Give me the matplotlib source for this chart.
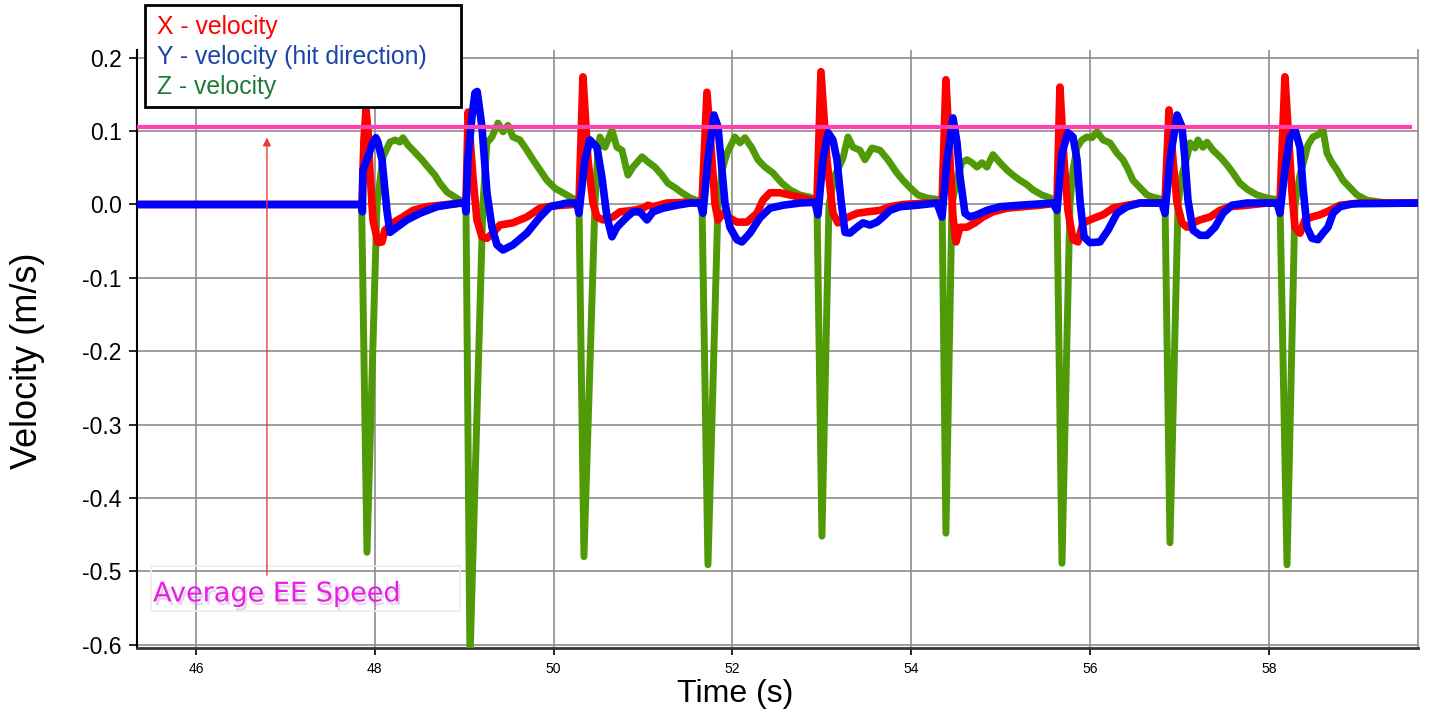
import numpy as np
import matplotlib.pyplot as plt
import matplotlib.patheffects as pe
from matplotlib.patches import Rectangle

plt.rcParams['font.family'] = ['Liberation Sans', 'DejaVu Sans']

series_labels = ['X - velocity', 'Y - velocity (hit direction)', 'Z - velocity']
avg_speed = 0.106
x_ticks = [46, 48, 50, 52, 54, 56, 58]
y_ticks = [0.2, 0.1, 0.0, -0.1, -0.2, -0.3, -0.4, -0.5, -0.6]

# (time s, velocity m/s)
x_vel = [
    (45.3, 0.0), (47.857, 0.0),
    (47.879, 0.088), (47.902, 0.129), (47.924, 0.101), (47.946, 0.047), (47.980, -0.021),
    (48.036, -0.052), (48.081, -0.051), (48.114, -0.035), (48.204, -0.025), (48.315, -0.017),
    (48.427, -0.008), (48.584, -0.003), (48.808, 0.0), (48.987, 0.002),
    (49.020, 0.002), (49.045, 0.126), (49.098, 0.038), (49.143, -0.021), (49.199, -0.044),
    (49.255, -0.046), (49.322, -0.039), (49.400, -0.028), (49.546, -0.025), (49.702, -0.017),
    (49.848, -0.005), (49.993, -0.002), (50.217, 0.0), (50.284, 0.0),
    (50.329, 0.174), (50.385, 0.061), (50.441, 0.002), (50.485, -0.017), (50.553, -0.021),
    (50.664, -0.017), (50.743, -0.010), (50.888, -0.008), (51.000, -0.005), (51.056, -0.001),
    (51.112, -0.003), (51.268, 0.002), (51.492, 0.003), (51.660, 0.002),
    (51.716, 0.153), (51.772, 0.061), (51.805, 0.002), (51.839, -0.021), (51.895, -0.012),
    (51.951, -0.017), (52.051, -0.024), (52.163, -0.024), (52.275, -0.012), (52.342, 0.006),
    (52.421, 0.016), (52.532, 0.016), (52.644, 0.013), (52.790, 0.009), (52.946, 0.004),
    (52.991, 0.181), (53.058, 0.061), (53.125, -0.012), (53.181, -0.025), (53.282, -0.018),
    (53.394, -0.012), (53.506, -0.010), (53.651, -0.008), (53.763, -0.003), (53.909, 0.0),
    (54.177, 0.002), (54.345, 0.002),
    (54.389, 0.170), (54.434, 0.061), (54.468, -0.017), (54.501, -0.051), (54.546, -0.031),
    (54.624, -0.031), (54.714, -0.025), (54.803, -0.017), (54.915, -0.010), (55.072, -0.005),
    (55.251, -0.003), (55.441, -0.001), (55.631, 0.002),
    (55.664, 0.160), (55.709, 0.061), (55.754, -0.008), (55.810, -0.048), (55.866, -0.051),
    (55.922, -0.025), (56.000, -0.021), (56.079, -0.017), (56.146, -0.014), (56.258, -0.005),
    (56.414, -0.001), (56.559, 0.002), (56.839, 0.002),
    (56.884, 0.129), (56.929, 0.061), (56.974, 0.002), (57.029, -0.025), (57.085, -0.031),
    (57.152, -0.025), (57.231, -0.021), (57.342, -0.017), (57.454, -0.008), (57.566, -0.003),
    (57.756, -0.001), (57.980, 0.002), (58.125, 0.002),
    (58.181, 0.174), (58.215, 0.106), (58.260, 0.016), (58.293, -0.031), (58.349, -0.039),
    (58.405, -0.021), (58.483, -0.017), (58.572, -0.014), (58.685, -0.008), (58.796, -0.001),
    (59.020, 0.002), (59.658, 0.002),
]

y_vel = [
    (45.3, 0.0), (47.853, 0.0),
    (47.862, -0.010), (47.868, 0.047), (47.924, 0.065), (47.980, 0.085), (48.013, 0.091),
    (48.036, 0.085), (48.081, 0.061), (48.136, -0.008), (48.170, -0.038), (48.248, -0.031),
    (48.360, -0.021), (48.506, -0.012), (48.696, -0.003), (48.953, 0.002), (49.009, 0.002),
    (49.020, -0.010), (49.042, 0.061), (49.087, 0.119), (49.121, 0.152), (49.146, 0.154),
    (49.199, 0.106), (49.255, 0.016), (49.311, -0.031), (49.367, -0.055), (49.434, -0.062),
    (49.546, -0.055), (49.702, -0.039), (49.848, -0.017), (49.960, -0.003), (50.150, 0.002),
    (50.262, 0.002),
    (50.284, -0.012), (50.351, 0.061), (50.407, 0.088), (50.485, 0.078), (50.541, 0.037),
    (50.597, -0.017), (50.653, -0.044), (50.709, -0.031), (50.821, -0.017), (50.888, -0.010),
    (50.966, -0.010), (51.045, -0.021), (51.112, -0.010), (51.224, -0.005), (51.380, -0.001),
    (51.526, 0.002), (51.638, 0.002),
    (51.671, -0.012), (51.727, 0.061), (51.794, 0.122), (51.839, 0.106), (51.884, 0.047),
    (51.917, 0.002), (51.973, -0.031), (52.051, -0.048), (52.107, -0.051), (52.197, -0.039),
    (52.309, -0.018), (52.421, -0.005), (52.566, -0.001), (52.756, 0.002), (52.924, 0.003),
    (52.957, -0.014), (53.013, 0.061), (53.070, 0.098), (53.125, 0.088), (53.170, 0.061),
    (53.215, 0.006), (53.260, -0.038), (53.315, -0.039), (53.394, -0.031), (53.461, -0.025),
    (53.539, -0.028), (53.618, -0.024), (53.685, -0.017), (53.763, -0.008), (53.875, -0.003),
    (54.065, -0.001), (54.289, 0.002),
    (54.345, -0.017), (54.401, 0.061), (54.468, 0.118), (54.513, 0.084), (54.546, 0.038),
    (54.602, -0.012), (54.658, -0.017), (54.736, -0.014), (54.848, -0.008), (54.993, -0.003),
    (55.217, -0.001), (55.586, 0.002),
    (55.631, -0.008), (55.687, 0.070), (55.754, 0.098), (55.810, 0.092), (55.855, 0.061),
    (55.888, 0.006), (55.933, -0.044), (56.000, -0.052), (56.112, -0.051), (56.202, -0.035),
    (56.302, -0.012), (56.414, -0.003), (56.559, 0.002), (56.805, 0.002),
    (56.839, -0.012), (56.895, 0.061), (56.974, 0.122), (57.029, 0.106), (57.063, 0.061),
    (57.096, 0.006), (57.152, -0.035), (57.231, -0.042), (57.309, -0.042), (57.398, -0.031),
    (57.488, -0.012), (57.588, -0.001), (57.756, 0.002), (58.092, 0.002),
    (58.125, -0.012), (58.181, 0.047), (58.237, 0.092), (58.293, 0.102), (58.349, 0.078),
    (58.383, 0.024), (58.427, -0.031), (58.483, -0.046), (58.550, -0.048), (58.606, -0.039),
    (58.662, -0.031), (58.718, -0.012), (58.796, -0.003), (58.942, 0.001), (59.658, 0.002),
]

z_vel = [
    (45.3, 0.0), (47.853, 0.0),
    (47.913, -0.474), (48.025, 0.0), (48.092, 0.065), (48.170, 0.085), (48.226, 0.088),
    (48.282, 0.085), (48.315, 0.091), (48.371, 0.081), (48.427, 0.074), (48.528, 0.061),
    (48.595, 0.051), (48.673, 0.040), (48.729, 0.029), (48.808, 0.017), (48.897, 0.010),
    (48.953, 0.006), (49.020, 0.002),
    (49.065, -0.62), (49.210, 0.0), (49.255, 0.084), (49.311, 0.092), (49.378, 0.111),
    (49.434, 0.099), (49.490, 0.108), (49.546, 0.092), (49.624, 0.088), (49.702, 0.074),
    (49.770, 0.061), (49.848, 0.047), (49.926, 0.033), (50.016, 0.022), (50.105, 0.016),
    (50.206, 0.009), (50.284, 0.003),
    (50.340, -0.480), (50.463, 0.0), (50.497, 0.074), (50.519, 0.092), (50.575, 0.078),
    (50.653, 0.101), (50.709, 0.078), (50.765, 0.074), (50.832, 0.040), (50.888, 0.051),
    (50.989, 0.065), (51.056, 0.058), (51.134, 0.051), (51.213, 0.040), (51.280, 0.029),
    (51.358, 0.023), (51.436, 0.016), (51.526, 0.009), (51.660, 0.003),
    (51.727, -0.491), (51.839, 0.0), (51.884, 0.047), (51.940, 0.070), (51.973, 0.078),
    (52.029, 0.092), (52.085, 0.084), (52.141, 0.091), (52.219, 0.077), (52.286, 0.061),
    (52.365, 0.051), (52.454, 0.043), (52.555, 0.029), (52.644, 0.020), (52.756, 0.013),
    (52.868, 0.010), (52.946, 0.006),
    (53.002, -0.452), (53.081, 0.0), (53.148, 0.040), (53.237, 0.063), (53.293, 0.092),
    (53.349, 0.078), (53.427, 0.074), (53.483, 0.061), (53.562, 0.077), (53.651, 0.074),
    (53.740, 0.061), (53.841, 0.043), (53.909, 0.033), (53.987, 0.023), (54.076, 0.013),
    (54.177, 0.009), (54.345, 0.006),
    (54.389, -0.448), (54.456, 0.0), (54.513, 0.037), (54.568, 0.057), (54.624, 0.061),
    (54.680, 0.057), (54.736, 0.051), (54.792, 0.057), (54.848, 0.051), (54.915, 0.068),
    (54.993, 0.057), (55.072, 0.047), (55.139, 0.040), (55.217, 0.033), (55.295, 0.027),
    (55.362, 0.020), (55.463, 0.013), (55.553, 0.009), (55.631, 0.003),
    (55.687, -0.489), (55.776, 0.0), (55.810, 0.047), (55.855, 0.078), (55.911, 0.088),
    (55.966, 0.092), (56.022, 0.091), (56.079, 0.099), (56.146, 0.088), (56.224, 0.084),
    (56.302, 0.070), (56.369, 0.061), (56.414, 0.051), (56.481, 0.033), (56.559, 0.023),
    (56.638, 0.013), (56.705, 0.010), (56.839, 0.006),
    (56.895, -0.461), (56.985, 0.0), (57.029, 0.040), (57.085, 0.065), (57.119, 0.084),
    (57.175, 0.077), (57.208, 0.088), (57.264, 0.078), (57.309, 0.085), (57.376, 0.074),
    (57.454, 0.065), (57.533, 0.054), (57.600, 0.043), (57.678, 0.029), (57.767, 0.020),
    (57.868, 0.013), (57.980, 0.009), (58.125, 0.006),
    (58.204, -0.491), (58.293, 0.0), (58.349, 0.040), (58.405, 0.065), (58.438, 0.081),
    (58.494, 0.092), (58.550, 0.095), (58.606, 0.102), (58.651, 0.070), (58.707, 0.057),
    (58.763, 0.047), (58.830, 0.033), (58.908, 0.023), (58.987, 0.013), (59.098, 0.006),
    (59.322, 0.002), (59.658, 0.002),
]

fig = plt.figure(figsize=(14.31, 7.17), dpi=100)
ax = fig.add_axes([0.0957, 0.0962, 0.8952, 0.8341])

xt, xv = np.array(x_vel).T
yt, yv = np.array(y_vel).T
zt, zv = np.array(z_vel).T

ax.plot(zt, zv, color='#4f9a06', lw=5, solid_joinstyle='round', solid_capstyle='round', zorder=3)
ax.plot(xt, xv, color='#ff0000', lw=5.5, solid_joinstyle='round', solid_capstyle='round', zorder=4)
ax.plot(yt, yv, color='#0000ff', lw=5.5, solid_joinstyle='round', solid_capstyle='round', zorder=5)

# average speed line
ax.plot([45.34, 59.58], [avg_speed, avg_speed], color='#ff40b0', lw=3, zorder=6)

ax.annotate('', xy=(46.794, 0.095), xytext=(46.794, -0.509),
            arrowprops=dict(arrowstyle='-|>', color='#e83a3a', lw=1, mutation_scale=12),
            zorder=6)
ax.add_patch(Rectangle((45.5, -0.554), 3.45, 0.061, fill=False, edgecolor='#eeeeee', lw=1.2, zorder=2))
ax.text(45.52, -0.541, 'Average EE Speed', color='#e61ee6', fontsize=19.5,
        family=['DejaVu Sans'], zorder=7,
        path_effects=[pe.SimplePatchShadow(offset=(1.5, -2.5), shadow_rgbFace='#b070b0', alpha=0.3),
                      pe.Normal()])

ax.set_xlim(45.34, 59.669)
ax.set_ylim(-0.6045, 0.2106)
ax.set_xticks(x_ticks)
ax.set_yticks(y_ticks)
ax.set_yticklabels(['%.1f' % v for v in y_ticks], fontsize=16.5)
ax.set_xticklabels([str(v) for v in x_ticks], fontsize=10)
ax.tick_params(axis='y', length=6, width=1.2, pad=5)
ax.tick_params(axis='x', length=5, width=1.2, pad=5)
ax.grid(True, color='#8c8c8c', lw=1.2)
ax.set_axisbelow(True)

ax.spines['top'].set_visible(False)
ax.spines['right'].set_color('#8c8c8c')
ax.spines['right'].set_linewidth(1.2)
ax.spines['left'].set_linewidth(1.5)
ax.spines['bottom'].set_linewidth(2)
ax.spines['bottom'].set_color('#333333')

ax.set_xlabel('Time (s)', fontsize=23)
ax.xaxis.set_label_coords(0.467, -0.052)
ax.set_ylabel('Velocity (m/s)', fontsize=26)
ax.yaxis.set_label_coords(-0.072, 0.48)

# legend box above the axes
fig.patches.append(Rectangle((0.1013, 0.8508), 0.2208, 0.1423, transform=fig.transFigure,
                             fill=True, facecolor='white', edgecolor='black', lw=2, zorder=10))
legend_colors = ['#ff0000', '#1a45a8', '#1f7a3a']
for i, (lab, col) in enumerate(zip(series_labels, legend_colors)):
    fig.text(0.1097, 0.9625 - i * 0.0418, lab, color=col, fontsize=17.8, va='center', zorder=11)

fig.savefig('out.png', dpi=100)
